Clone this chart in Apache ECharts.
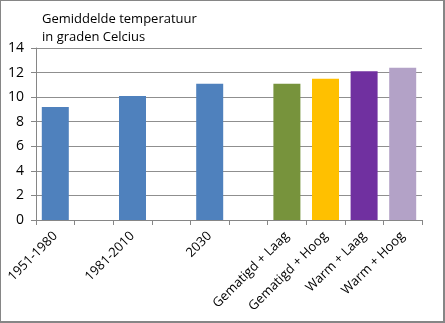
<!DOCTYPE html>
<html>
<head>
<meta charset="utf-8">
<script src="https://cdn.jsdelivr.net/npm/echarts@6/dist/echarts.min.js"></script>
<style>
  html, body { margin: 0; padding: 0; background: #fff; }
  #frame {
    position: absolute; left: 0; top: 0;
    width: 445px; height: 323px;
    box-sizing: border-box;
    border-style: solid; border-color: #868686;
    border-width: 1px 2px 2px 1px;
  }
  #chart { position: absolute; left: 0; top: 0; width: 445px; height: 323px; }
</style>
</head>
<body>
<div id="frame"></div>
<div id="chart"></div>
<script>
// Periods and climate scenarios; empty slots keep the gaps between groups
const categories = ['1951-1980', '', '1981-2010', '', '2030', '',
  'Gematigd + Laag', 'Gematigd + Hoog', 'Warm + Laag', 'Warm + Hoog'];
// Mean temperature in degrees Celsius (null = gap)
const temperatures = [9.2, null, 10.1, null, 11.1, null, 11.1, 11.5, 12.1, 12.4];
const yTicks = [0, 2, 4, 6, 8, 10, 12, 14];

const barColors = ['#4F81BD', null, '#4F81BD', null, '#4F81BD', null,
  '#77933C', '#FFC000', '#7030A0', '#B3A2C7'];

const font = 'Open Sans, Liberation Sans, sans-serif';
const chart = echarts.init(document.getElementById('chart'));

chart.setOption({
  animation: false,
  backgroundColor: 'transparent',
  title: {
    text: 'Gemiddelde temperatuur\nin graden Celcius',
    left: 37, top: 5,
    textStyle: { fontFamily: font, fontSize: 13, fontWeight: 'normal', color: '#000', lineHeight: 18 }
  },
  grid: { left: 36, right: 23, top: 48, bottom: 103, containLabel: false },
  xAxis: {
    type: 'category',
    data: categories,
    boundaryGap: true,
    axisLine: { lineStyle: { color: '#868686', width: 1 } },
    axisTick: { show: true, interval: 0, length: 5, lineStyle: { color: '#868686' } },
    axisLabel: {
      interval: 0, rotate: 45, margin: 14,
      fontFamily: font, fontSize: 13, color: '#000'
    },
    splitLine: { show: false }
  },
  yAxis: {
    type: 'value',
    min: yTicks[0], max: yTicks[yTicks.length - 1], interval: 2,
    axisLine: { show: true, lineStyle: { color: '#868686', width: 1 } },
    axisTick: { show: true, length: 5, lineStyle: { color: '#868686' } },
    axisLabel: { margin: 12, fontFamily: font, fontSize: 14, color: '#000' },
    splitLine: { show: true, lineStyle: { color: '#8f8f8f', width: 1 } }
  },
  series: [{
    type: 'bar',
    barWidth: 27,
    data: temperatures.map((v, i) => ({
      value: v,
      itemStyle: { color: barColors[i] || '#4F81BD' }
    }))
  }]
});
</script>
</body>
</html>
